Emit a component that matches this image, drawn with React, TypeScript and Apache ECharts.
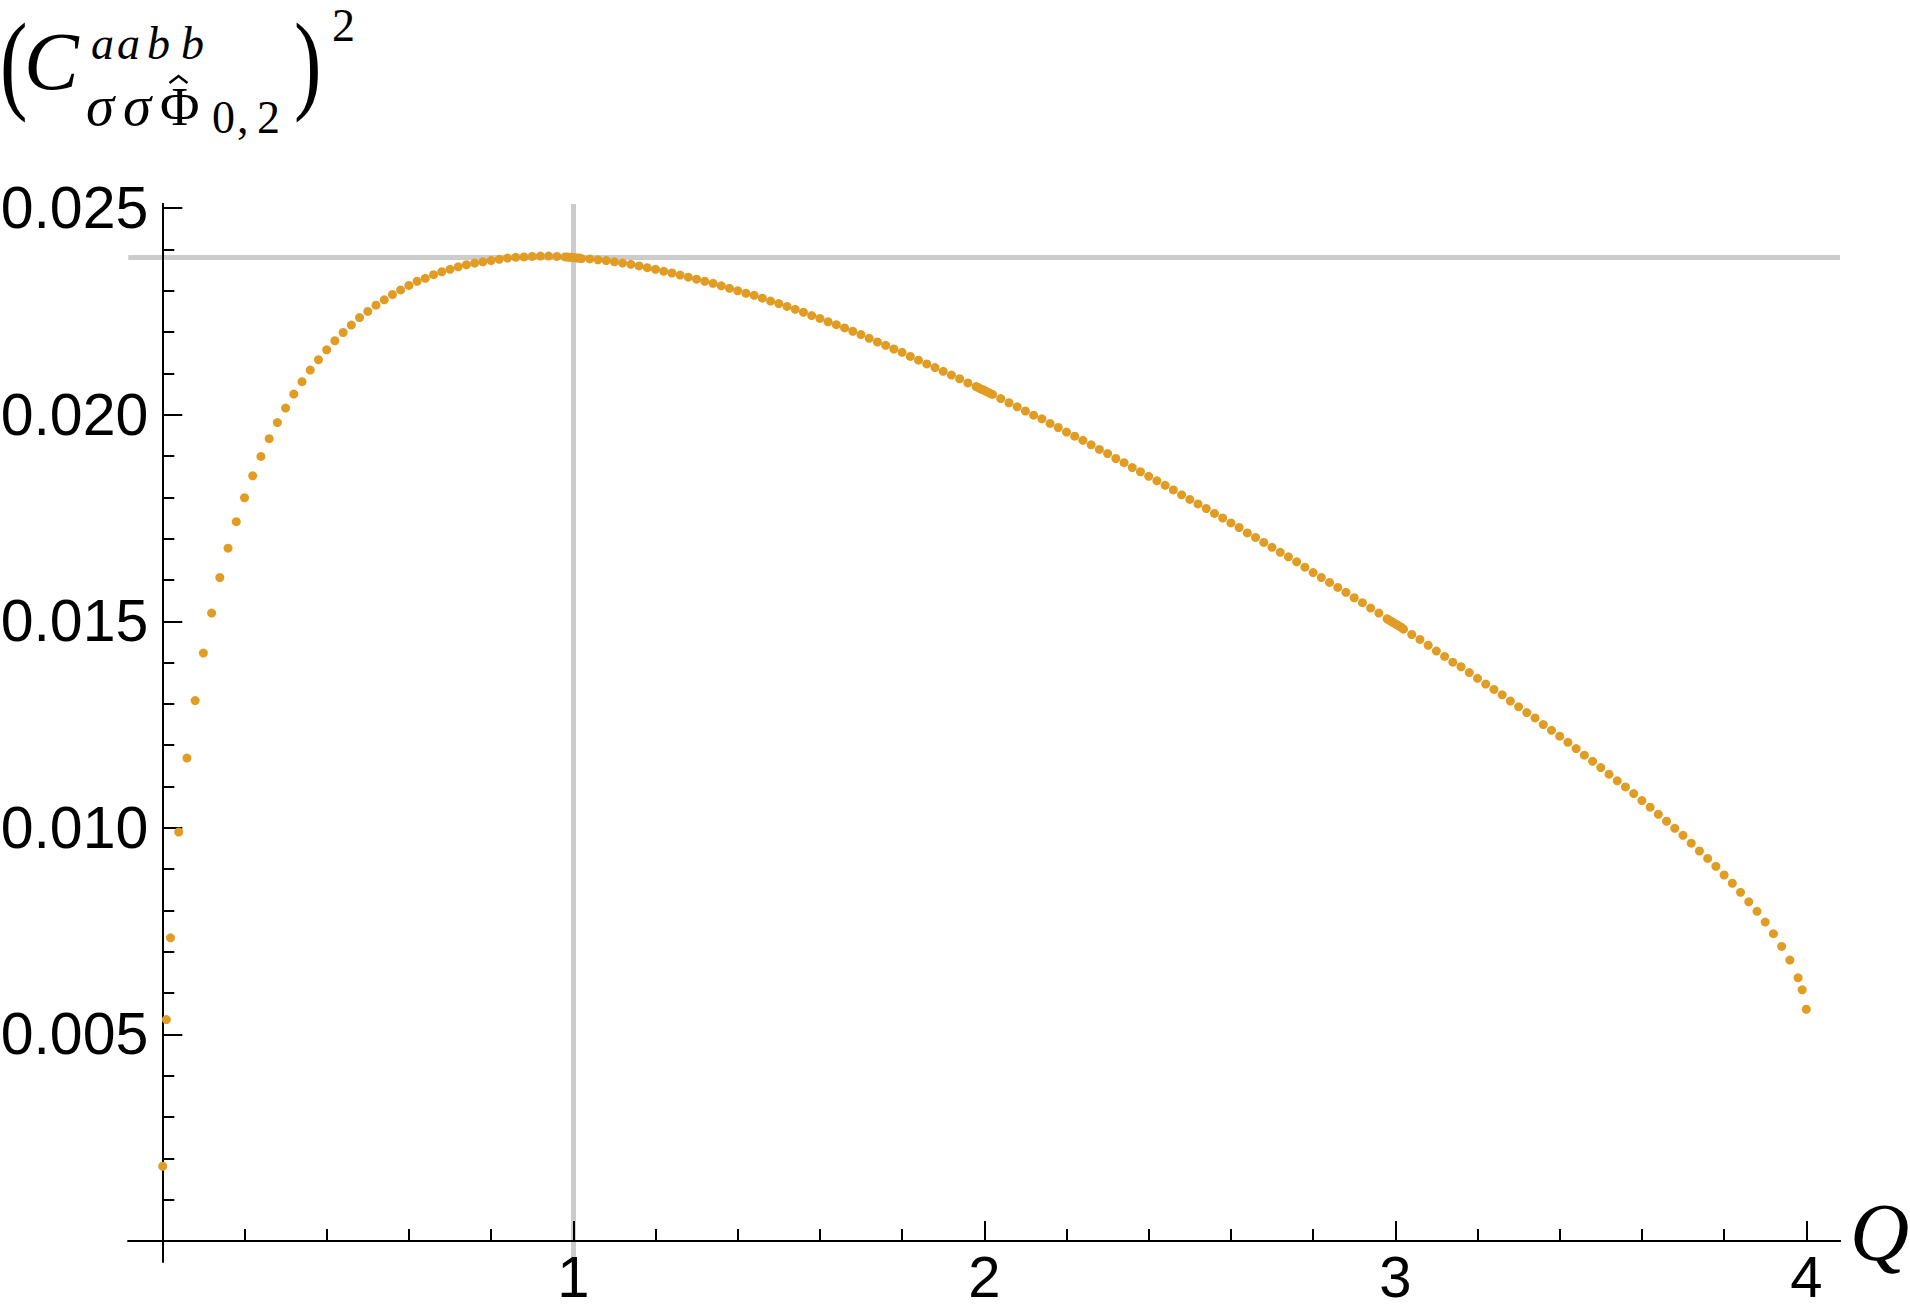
import React, { useEffect, useRef } from "react";
import * as echarts from "echarts";

// Sample points (Q, value)
const qValues = [
  0.001, 0.01, 0.02, 0.04, 0.06, 0.08, 0.1, 0.12, 0.14, 0.16, 0.18, 0.2, 0.22, 0.24, 0.26, 0.28, 0.3,
  0.32, 0.34, 0.36, 0.38, 0.4, 0.42, 0.44, 0.46, 0.48, 0.5, 0.52, 0.54, 0.56, 0.58, 0.6, 0.62, 0.64,
  0.66, 0.68, 0.7, 0.72, 0.74, 0.76, 0.78, 0.8, 0.82, 0.84, 0.86, 0.88, 0.9, 0.92, 0.94, 0.96, 0.98,
  0.985, 0.99, 0.995, 1.0, 1.005, 1.01, 1.015,
  1.02, 1.04, 1.06, 1.08, 1.1, 1.12, 1.14, 1.16, 1.18, 1.2, 1.22, 1.24, 1.26, 1.28, 1.3, 1.32, 1.34,
  1.36, 1.38, 1.4, 1.42, 1.44, 1.46, 1.48, 1.5, 1.52, 1.54, 1.56, 1.58, 1.6, 1.62, 1.64, 1.66, 1.68,
  1.7, 1.72, 1.74, 1.76, 1.78, 1.8, 1.82, 1.84, 1.86, 1.88, 1.9, 1.92, 1.94, 1.96, 1.98,
  1.985, 1.99, 1.995, 2.0, 2.005, 2.01, 2.015,
  2.02, 2.04, 2.06, 2.08, 2.1, 2.12, 2.14, 2.16, 2.18, 2.2, 2.22, 2.24, 2.26, 2.28, 2.3, 2.32, 2.34,
  2.36, 2.38, 2.4, 2.42, 2.44, 2.46, 2.48, 2.5, 2.52, 2.54, 2.56, 2.58, 2.6, 2.62, 2.64, 2.66, 2.68,
  2.7, 2.72, 2.74, 2.76, 2.78, 2.8, 2.82, 2.84, 2.86, 2.88, 2.9, 2.92, 2.94, 2.96, 2.98,
  2.985, 2.99, 2.995, 3.0, 3.005, 3.01, 3.015,
  3.02, 3.04, 3.06, 3.08, 3.1, 3.12, 3.14, 3.16, 3.18, 3.2, 3.22, 3.24, 3.26, 3.28, 3.3, 3.32, 3.34,
  3.36, 3.38, 3.4, 3.42, 3.44, 3.46, 3.48, 3.5, 3.52, 3.54, 3.56, 3.58, 3.6, 3.62, 3.64, 3.66, 3.68,
  3.7, 3.72, 3.74, 3.76, 3.78, 3.8, 3.82, 3.84, 3.86, 3.88, 3.9, 3.92, 3.94, 3.96, 3.98, 3.99, 4.0,
];

const cValues = [
  0.00181, 0.00536, 0.00734, 0.0099, 0.01169, 0.01308, 0.01423, 0.0152, 0.01606, 0.01677, 0.01741,
  0.01799, 0.01852, 0.01899, 0.01942, 0.01981, 0.02016, 0.0205, 0.0208, 0.02108, 0.02133, 0.02157,
  0.02179, 0.02199, 0.02217, 0.02235, 0.0225, 0.02265, 0.02278, 0.02291, 0.02302, 0.02313, 0.02323,
  0.0233, 0.02339, 0.02346, 0.02352, 0.02358, 0.02363, 0.02367, 0.0237, 0.02373, 0.02376, 0.02379,
  0.02381, 0.02382, 0.02383, 0.02384, 0.02384, 0.02383, 0.02382,
  0.02382, 0.02381, 0.02381, 0.0238, 0.0238, 0.02379, 0.02379,
  0.02378, 0.02377, 0.02375, 0.02373, 0.0237, 0.02367, 0.02364, 0.0236, 0.02356, 0.02352, 0.02347,
  0.02343, 0.02338, 0.02333, 0.02328, 0.02323, 0.02318, 0.02312, 0.02306, 0.023, 0.02294, 0.02289,
  0.02282, 0.02275, 0.02269, 0.02262, 0.02255, 0.02248, 0.0224, 0.02233, 0.02225, 0.02218, 0.0221,
  0.02202, 0.02194, 0.02185, 0.02176, 0.02168, 0.02159, 0.02151, 0.02141, 0.02132, 0.02123, 0.02114,
  0.02105, 0.02096, 0.02087, 0.02077, 0.02068,
  0.02066, 0.02063, 0.02061, 0.02059, 0.02056, 0.02054, 0.02051,
  0.02049, 0.02039, 0.02029, 0.02019, 0.02009, 0.01999, 0.0199, 0.01979, 0.01969, 0.01958, 0.01948,
  0.01938, 0.01927, 0.01916, 0.01906, 0.01894, 0.01884, 0.01872, 0.01862, 0.01851, 0.0184, 0.01829,
  0.01818, 0.01806, 0.01795, 0.01784, 0.01773, 0.01761, 0.0175, 0.01738, 0.01727, 0.01714, 0.01703,
  0.01691, 0.01679, 0.01667, 0.01656, 0.01644, 0.01631, 0.01618, 0.01606, 0.01594, 0.01582, 0.0157,
  0.01557, 0.01545, 0.01532, 0.0152, 0.01506,
  0.01503, 0.015, 0.01497, 0.01494, 0.01491, 0.01488, 0.01485,
  0.01481, 0.01468, 0.01456, 0.01442, 0.01428, 0.01415, 0.01401, 0.0139, 0.01376, 0.01362, 0.01348,
  0.01335, 0.01322, 0.01307, 0.01293, 0.01279, 0.01266, 0.0125, 0.01236, 0.01222, 0.01207, 0.01192,
  0.01176, 0.01161, 0.01146, 0.0113, 0.01114, 0.01099, 0.01083, 0.01066, 0.0105, 0.01033, 0.01016,
  0.00999, 0.00982, 0.00963, 0.00944, 0.00926, 0.00907, 0.00886, 0.00866, 0.00844, 0.00821, 0.00798,
  0.00772, 0.00744, 0.00713, 0.0068, 0.00637, 0.00608, 0.00561,
];

// Axes
const xRange = [-0.0827, 4.082];
const yRange = [-0.0005, 0.0251];
const xMajorTicks = [0, 1, 2, 3, 4];
const xTickLabels = [1, 2, 3, 4];
const xMinorTicks = [
  0.2, 0.4, 0.6, 0.8, 1.2, 1.4, 1.6, 1.8, 2.2, 2.4, 2.6, 2.8, 3.2, 3.4, 3.6, 3.8,
];
const yMajorTicks = [0, 0.005, 0.01, 0.015, 0.02, 0.025];
const yTickLabels = [0.005, 0.01, 0.015, 0.02, 0.025];
const yMinorTicks = [
  0.001, 0.002, 0.003, 0.004, 0.006, 0.007, 0.008, 0.009, 0.011, 0.012, 0.013, 0.014, 0.016, 0.017,
  0.018, 0.019, 0.021, 0.022, 0.023, 0.024,
];

// Reference grid lines
const refQ = 1;
const refValue = 0.0238;

const DOT = "#E19C24";
const GRAY = "#CCCCCC";
const SANS = "'Liberation Sans', Arial, sans-serif";
const SERIF = "'Liberation Serif', 'Times New Roman', serif";

type Glyph = { t: string; x: number; base: number; size: number; italic?: boolean; sx?: number };

const titleGlyphs: Glyph[] = [
  { t: "(", x: 0, base: 99, size: 110, sx: 0.75 },
  { t: "C", x: 24, base: 89, size: 82, italic: true },
  { t: "a", x: 91, base: 59, size: 46, italic: true },
  { t: "a", x: 117, base: 59, size: 46, italic: true },
  { t: "b", x: 147, base: 59, size: 46, italic: true },
  { t: "b", x: 181, base: 59, size: 46, italic: true },
  { t: "σ", x: 86, base: 125, size: 57, italic: true },
  { t: "σ", x: 123, base: 125, size: 57, italic: true },
  { t: "Φ", x: 160, base: 125, size: 54 },
  { t: "0", x: 212, base: 133, size: 46 },
  { t: ",", x: 237, base: 133, size: 46 },
  { t: "2", x: 257, base: 133, size: 46 },
  { t: ")", x: 294, base: 99, size: 110, sx: 0.75 },
  { t: "2", x: 332, base: 41, size: 46 },
  { t: "Q", x: 1850, base: 1260, size: 82, italic: true },
];

function glyphElement(g: Glyph) {
  return {
    type: "text",
    x: g.x,
    y: g.base - 0.3375 * g.size,
    scaleX: g.sx ?? 1,
    silent: true,
    style: {
      text: g.t,
      fontSize: g.size,
      fontFamily: SERIF,
      fontStyle: g.italic ? "italic" : "normal",
      lineHeight: Math.round(g.size * 0.8),
      fill: "#000",
      align: "left",
      verticalAlign: "middle",
      textAlign: "left",
      textVerticalAlign: "middle",
    },
  };
}

export default function App() {
  const ref = useRef<HTMLDivElement>(null);

  useEffect(() => {
    if (!ref.current) return;
    const chart = echarts.init(ref.current, undefined, { renderer: "svg" });

    const axisLine = {
      show: true,
      onZero: true,
      onZeroAxisIndex: 0,
      lineStyle: { color: "#000", width: 2 },
    };
    const tickStyle = { color: "#000", width: 2 };

    const xBase = {
      type: "value",
      min: xRange[0],
      max: xRange[1],
      position: "bottom",
      z: 2,
      splitLine: { show: false },
      axisLine,
    };
    const yBase = {
      type: "value",
      min: yRange[0],
      max: yRange[1],
      position: "left",
      z: 2,
      splitLine: { show: false },
      axisLine,
    };

    const option: any = {
      animation: false,
      backgroundColor: "#fff",
      grid: {
        left: 128.3,
        top: 204,
        right: 70,
        bottom: 47.3,
        containLabel: false,
        outerBoundsMode: "none",
      },
      xAxis: [
        {
          ...xBase,
          axisTick: {
            show: true,
            inside: true,
            length: 20,
            lineStyle: tickStyle,
            customValues: xMajorTicks,
          },
          axisLabel: {
            show: true,
            customValues: xTickLabels,
            formatter: (v: number) => String(v),
            fontSize: 58,
            lineHeight: 40,
            fontFamily: SANS,
            color: "#000",
            margin: -5.3,
          },
        },
        {
          ...xBase,
          axisTick: {
            show: true,
            inside: true,
            length: 12,
            lineStyle: tickStyle,
            customValues: xMinorTicks,
          },
          axisLabel: { show: false },
        },
      ],
      yAxis: [
        {
          ...yBase,
          axisTick: {
            show: true,
            inside: true,
            length: 20,
            lineStyle: tickStyle,
            customValues: yMajorTicks,
          },
          axisLabel: {
            show: true,
            customValues: yTickLabels,
            formatter: (v: number) => v.toFixed(3),
            fontSize: 59,
            fontFamily: SANS,
            color: "#000",
            margin: -20,
          },
        },
        {
          ...yBase,
          axisTick: {
            show: true,
            inside: true,
            length: 12,
            lineStyle: tickStyle,
            customValues: yMinorTicks,
          },
          axisLabel: { show: false },
        },
      ],
      series: [
        {
          type: "scatter",
          xAxisIndex: 0,
          yAxisIndex: 0,
          data: [],
          z: 1,
          silent: true,
          markLine: {
            z: 1,
            silent: true,
            precision: 6,
            symbol: ["none", "none"],
            label: { show: false },
            lineStyle: { color: GRAY, width: 5, type: "solid" },
            emphasis: { disabled: true },
            data: [{ xAxis: refQ }, { yAxis: refValue }],
          },
        },
        {
          type: "scatter",
          xAxisIndex: 0,
          yAxisIndex: 0,
          z: 3,
          symbol: "circle",
          symbolSize: 9,
          itemStyle: { color: DOT, opacity: 1 },
          silent: true,
          data: qValues.map((q, i) => [q, cValues[i]]),
        },
      ],
      graphic: {
        elements: [
          ...titleGlyphs.map(glyphElement),
          {
            type: "polyline",
            silent: true,
            shape: {
              points: [
                [169.5, 83],
                [178.5, 76],
                [187.5, 83],
              ],
            },
            style: { stroke: "#000", lineWidth: 2.5, fill: "none" },
          },
        ],
      },
    };

    chart.setOption(option);
    return () => chart.dispose();
  }, []);

  return (
    <div
      ref={ref}
      style={{ position: "absolute", left: 0, top: 0, width: 1910, height: 1309 }}
    />
  );
}
